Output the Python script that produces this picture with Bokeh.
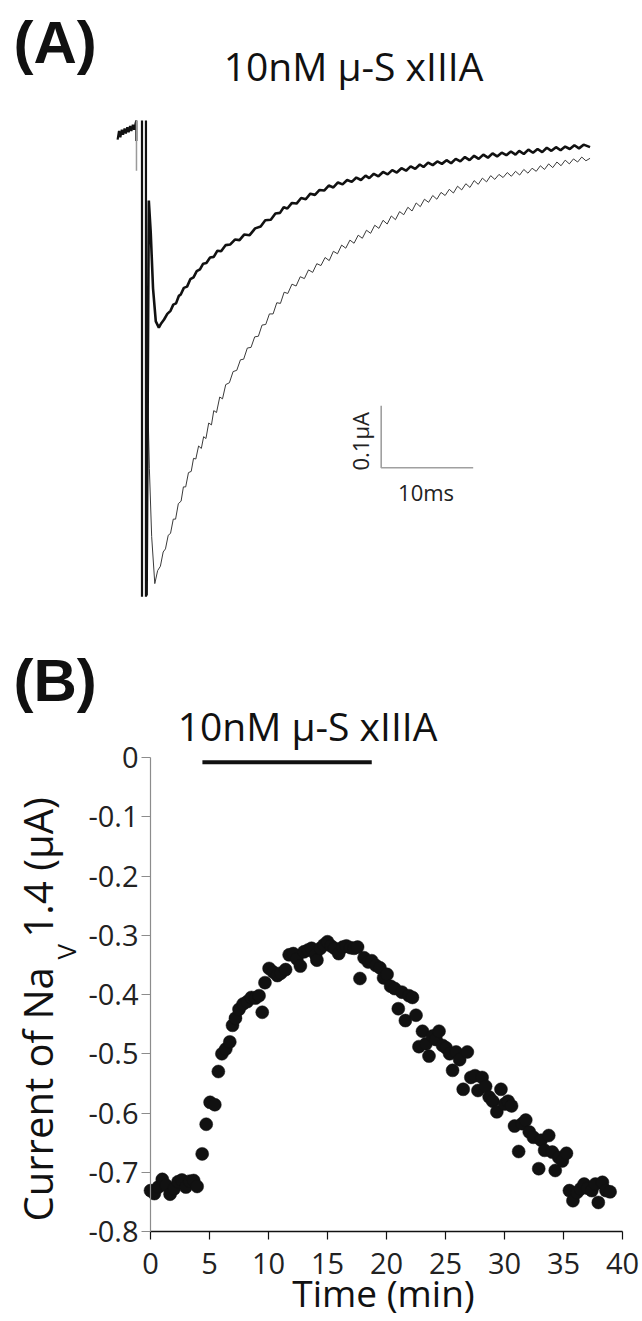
import math
from bokeh.plotting import figure
from bokeh.models import Range1d, Label, FixedTicker, LinearAxis
from bokeh.embed import file_html
from bokeh.resources import INLINE

# ---------------- Panel A : current traces (time in ms, current in uA) ----------------
base_t = [-2.65, -2.5, -2.35, -2.2, -2.05, -1.9, -1.75, -1.6, -1.45, -1.3, -1.15, -1.0, -0.85, -0.7, -0.62, -0.62]
base_v = [-0.010, 0.004, -0.006, 0.006, -0.002, 0.008, 0.000, 0.010, 0.002, 0.012, 0.004, 0.014, 0.006, 0.016, 0.021, -0.012]

thick_t = [0.50, 0.74, 0.95, 1.20, 1.50, 1.83, 2.10, 2.40, 2.75, 3.10, 3.40, 3.70, 4.00, 4.20, 4.55, 4.90,
           5.25, 5.60, 5.95, 6.30, 6.65, 7.00, 7.40, 7.80, 8.20, 8.60, 9.10, 9.60, 10.10, 10.60, 11.10,
           11.70, 12.30, 12.90, 13.40, 14.00, 14.50, 15.00, 15.40, 15.80, 16.30, 16.80, 17.30, 17.80,
           18.30, 18.80, 19.30, 19.80, 20.30, 20.80, 21.30, 21.80, 22.30, 22.80, 23.30, 23.80, 24.30,
           24.70, 25.20, 25.70, 26.20, 26.70, 27.20, 27.70, 28.20, 28.70, 29.20, 29.70, 30.20, 30.60,
           31.10, 31.60, 32.10, 32.60, 33.10, 33.60, 34.10, 34.60, 35.10, 35.60, 36.10, 36.60, 37.10,
           37.60, 38.10, 38.60, 39.10, 39.60, 40.10, 40.60, 41.00, 41.50, 42.00, 42.50, 43.00, 43.50,
           44.00, 44.50, 45.00, 45.50, 46.00, 46.50, 47.00, 47.50, 48.00, 48.70]
thick_v = [-0.745, -0.108, -0.160, -0.250, -0.303, -0.313, -0.306, -0.300, -0.291, -0.286, -0.276, -0.274,
           -0.262, -0.260, -0.249, -0.247, -0.235, -0.232, -0.222, -0.219, -0.210, -0.209, -0.200, -0.199,
           -0.189, -0.190, -0.180, -0.179, -0.171, -0.172, -0.163, -0.164, -0.153, -0.150, -0.140, -0.139,
           -0.129, -0.128, -0.119, -0.121, -0.112, -0.113, -0.104, -0.106, -0.097, -0.099, -0.091, -0.092,
           -0.084, -0.087, -0.079, -0.082, -0.075, -0.078, -0.071, -0.075, -0.068, -0.072, -0.065, -0.069,
           -0.062, -0.066, -0.059, -0.063, -0.056, -0.060, -0.053, -0.057, -0.050, -0.054, -0.047, -0.051,
           -0.045, -0.049, -0.043, -0.048, -0.041, -0.045, -0.038, -0.043, -0.036, -0.041, -0.034, -0.039,
           -0.032, -0.037, -0.031, -0.035, -0.029, -0.034, -0.028, -0.033, -0.026, -0.031, -0.025, -0.030,
           -0.023, -0.028, -0.022, -0.027, -0.021, -0.025, -0.019, -0.024, -0.018, -0.022]

thin_t = [0.62, 0.80, 1.05, 1.39, 1.70, 2.00, 2.30, 2.55, 2.85, 3.10, 3.40, 3.65, 3.95, 4.25, 4.50, 4.75,
          5.05, 5.35, 5.60, 5.85, 6.15, 6.45, 6.70, 6.95, 7.25, 7.55, 7.80, 8.10, 8.45, 8.75, 9.10, 9.50,
          9.90, 10.30, 10.70, 11.05, 11.45, 11.85, 12.25, 12.65, 13.05, 13.45, 13.85, 14.25, 14.65, 15.05,
          15.45, 15.85, 16.30, 16.75, 17.20, 17.65, 18.10, 18.55, 19.00, 19.45, 19.90, 20.35, 20.80, 21.25,
          21.70, 22.15, 22.60, 23.05, 23.50, 23.95, 24.40, 24.85, 25.30, 25.75, 26.20, 26.65, 27.10, 27.55,
          28.00, 28.45, 28.90, 29.35, 29.80, 30.25, 30.70, 31.15, 31.60, 32.05, 32.50, 32.95, 33.40, 33.85,
          34.30, 34.75, 35.20, 35.65, 36.10, 36.55, 37.00, 37.45, 37.90, 38.35, 38.80, 39.25, 39.70, 40.15,
          40.60, 41.05, 41.50, 41.95, 42.40, 42.85, 43.30, 43.75, 44.20, 44.65, 45.10, 45.55, 46.00, 46.45,
          46.90, 47.35, 47.80, 48.25, 48.70]
thin_v = [-0.423, -0.540, -0.650, -0.726, -0.705, -0.698, -0.675, -0.670, -0.648, -0.645, -0.622, -0.622,
          -0.597, -0.593, -0.570, -0.570, -0.547, -0.545, -0.524, -0.525, -0.504, -0.508, -0.489, -0.492,
          -0.467, -0.470, -0.447, -0.450, -0.425, -0.428, -0.405, -0.402, -0.384, -0.382, -0.365, -0.364,
          -0.346, -0.345, -0.328, -0.327, -0.309, -0.308, -0.291, -0.291, -0.273, -0.274, -0.256, -0.258,
          -0.243, -0.246, -0.231, -0.234, -0.220, -0.224, -0.210, -0.213, -0.200, -0.205, -0.190, -0.194,
          -0.180, -0.185, -0.172, -0.177, -0.164, -0.169, -0.156, -0.161, -0.148, -0.153, -0.140, -0.146,
          -0.133, -0.139, -0.126, -0.131, -0.119, -0.125, -0.112, -0.118, -0.106, -0.111, -0.100, -0.106,
          -0.095, -0.100, -0.090, -0.096, -0.085, -0.091, -0.081, -0.087, -0.076, -0.082, -0.072, -0.078,
          -0.068, -0.074, -0.066, -0.071, -0.063, -0.069, -0.061, -0.067, -0.058, -0.064, -0.056, -0.061,
          -0.052, -0.058, -0.049, -0.055, -0.046, -0.052, -0.043, -0.049, -0.041, -0.046, -0.038, -0.044,
          -0.040]

transient_t = [0.0, 0.43]
transient_top = 0.021
transient_bottom = -0.747
artifact_t = -0.6
artifact_v = [0.021, -0.060]

scalebar_t0 = 26.0      # ms
scalebar_v0 = -0.539    # uA
scalebar_dt = 10.0      # 10 ms
scalebar_dv = 0.1       # 0.1 uA

# ---------------- Panel B : current vs time ----------------
time_min = [0.0, 0.33, 0.66, 1.0, 1.33, 1.66, 2.0, 2.33, 2.66, 3.0,
            3.33, 3.66, 3.95, 4.38, 4.72, 5.05, 5.45, 5.75, 6.05, 6.38,
            6.72, 6.95, 7.2, 7.5, 7.85, 8.2, 8.55, 8.9, 9.2, 9.47,
            9.7, 10.05, 10.4, 10.75, 11.05, 11.45, 11.75, 12.1, 12.4, 12.7,
            13.0, 13.35, 13.65, 14.0, 14.1, 14.4, 14.7, 15.0, 15.3, 15.6,
            15.95, 16.3, 16.6, 16.95, 17.25, 17.55, 17.75, 18.1, 18.45, 18.75,
            19.1, 19.45, 19.75, 20.05, 20.35, 20.7, 21.0, 21.3, 21.6, 21.9,
            22.2, 22.5, 22.75, 23.05, 23.35, 23.6, 23.9, 24.2, 24.45, 24.75,
            25.05, 25.35, 25.6, 25.9, 26.2, 26.5, 26.85, 27.15, 27.5, 27.75,
            28.1, 28.4, 28.7, 29.0, 29.35, 29.7, 30.0, 30.3, 30.6, 30.85,
            31.2, 31.5, 31.8, 32.1, 32.45, 32.9, 33.1, 33.4, 33.75, 34.05,
            34.3, 34.6, 34.9, 35.25, 35.5, 35.8, 36.15, 36.45, 36.75, 37.05,
            37.4, 37.7, 37.95, 38.3, 38.6, 38.95]
current_uA = [-0.731, -0.736, -0.725, -0.712, -0.722, -0.737, -0.728, -0.716, -0.713, -0.725,
              -0.715, -0.714, -0.724, -0.669, -0.619, -0.582, -0.586, -0.530, -0.500, -0.492,
              -0.480, -0.452, -0.440, -0.425, -0.416, -0.412, -0.405, -0.406, -0.402, -0.430,
              -0.380, -0.356, -0.362, -0.368, -0.364, -0.358, -0.333, -0.331, -0.340, -0.352,
              -0.328, -0.325, -0.322, -0.333, -0.342, -0.322, -0.316, -0.311, -0.318, -0.322,
              -0.331, -0.320, -0.318, -0.321, -0.322, -0.320, -0.373, -0.338, -0.345, -0.343,
              -0.351, -0.355, -0.372, -0.366, -0.386, -0.390, -0.424, -0.396, -0.444, -0.402,
              -0.405, -0.435, -0.488, -0.462, -0.483, -0.504, -0.470, -0.476, -0.462, -0.486,
              -0.490, -0.500, -0.528, -0.497, -0.510, -0.560, -0.497, -0.540, -0.537, -0.562,
              -0.540, -0.555, -0.573, -0.580, -0.598, -0.560, -0.585, -0.580, -0.588, -0.622,
              -0.665, -0.618, -0.612, -0.632, -0.641, -0.694, -0.646, -0.663, -0.638, -0.666,
              -0.697, -0.675, -0.681, -0.668, -0.731, -0.748, -0.734, -0.728, -0.720, -0.727,
              -0.731, -0.720, -0.751, -0.717, -0.731, -0.733]

toxin_start, toxin_end = 4.4, 18.75
toxin_bar_v = -0.008

x_ticks = [0, 5, 10, 15, 20, 25, 30, 35, 40]
y_ticks = [0, -0.1, -0.2, -0.3, -0.4, -0.5, -0.6, -0.7, -0.8]
y_tick_labels = ["0", "-0.1", "-0.2", "-0.3", "-0.4", "-0.5", "-0.6", "-0.7", "-0.8"]

TITLE = "10nM \u03bc-S xIIIA"
FONT = "Open Sans"
BOLD_FONT = "Liberation Sans"
INK = "#111111"

W = 640
H = 1319


# page pixel -> data of panel B (default ranges): x = 150 + 11.8*t, y = 757 + 592.5*|v|
def bx(px):
    return (px - 150.0) / 11.8


def by(py):
    return -(py - 757.0) / 592.5


# page pixel -> data of panel A (extra ranges): x = 141.5 + 9.2*t, y = 133 - 620*v
def ax(px):
    return (px - 141.5) / 9.2


def ay(py):
    return (133.0 - py) / 620.0


p = figure(width=W, height=H, output_backend="svg", toolbar_location=None,
           x_axis_type=None, y_axis_type=None,
           x_range=Range1d(bx(0), bx(W)), y_range=Range1d(by(H), by(0)),
           min_border_left=0, min_border_right=0, min_border_top=0, min_border_bottom=0)
p.extra_x_ranges = {"ta": Range1d(ax(0), ax(W))}
p.extra_y_ranges = {"va": Range1d(ay(H), ay(0))}
p.outline_line_color = None
p.background_fill_color = "white"

# ---------- Panel A ----------
A = dict(x_range_name="ta", y_range_name="va")
p.line(base_t, base_v, line_color=INK, line_width=2.2, **A)
p.segment(x0=[artifact_t], y0=[artifact_v[0]], x1=[artifact_t], y1=[artifact_v[1]],
          line_color="#9a9a9a", line_width=1.5, **A)
p.segment(x0=transient_t, y0=[transient_top] * 2, x1=transient_t, y1=[transient_bottom] * 2,
          line_color=INK, line_width=2.2, **A)
p.line(thin_t, thin_v, line_color="#3a3a3a", line_width=1.0, **A)
p.line(thick_t, thick_v, line_color=INK, line_width=2.6, **A)
p.line([scalebar_t0, scalebar_t0, scalebar_t0 + scalebar_dt],
       [scalebar_v0 + scalebar_dv, scalebar_v0, scalebar_v0],
       line_color="#a0a0a0", line_width=1.6, **A)


def add_text(px, py, text, size, font=FONT, bold=False, align="left", angle=0.0, color=INK):
    """px, py: page position of the text's start/centre on its baseline."""
    k = 0.34 if font == BOLD_FONT else 0.39   # observed baseline offset of the renderer (em)
    shift = k * size
    if angle:
        px -= shift
    else:
        py -= shift
    p.add_layout(Label(x=bx(px), y=by(py), text=text, text_font=font,
                       text_font_style="bold" if bold else "normal",
                       text_font_size=f"{size}px", text_color=color, text_align=align,
                       text_baseline="alphabetic", angle=angle))


add_text(13, 62, "(A)", 60, font=BOLD_FONT, bold=True)
add_text(353, 80, TITLE, 39, align="center")
add_text(425.6, 500.5, "10ms", 22, align="center", color="#222222")
add_text(368, 470, "0.1\u03bcA", 22, angle=math.pi / 2, color="#222222")

# ---------- Panel B ----------
xaxis = LinearAxis(fixed_location=-0.8, bounds=(0, 40), ticker=FixedTicker(ticks=x_ticks))
yaxis = LinearAxis(fixed_location=0, bounds=(-0.8, 0), ticker=FixedTicker(ticks=y_ticks),
                   major_label_overrides=dict(zip(y_ticks, y_tick_labels)))
for a in (xaxis, yaxis):
    a.minor_tick_line_color = None
    a.major_tick_in = 0
    a.major_label_text_font = FONT
    a.major_label_text_font_size = "29px"
    a.major_label_text_color = "#222222"

yaxis.axis_line_color = "#8c8c8c"
yaxis.axis_line_width = 1.2
yaxis.major_tick_line_color = "#8c8c8c"
yaxis.major_tick_out = 9
yaxis.major_label_standoff = 3

xaxis.axis_line_color = INK
xaxis.axis_line_width = 1.6
xaxis.major_tick_line_color = INK
xaxis.major_tick_line_width = 1.2
xaxis.major_tick_out = 8
xaxis.major_label_standoff = 13

p.add_layout(xaxis, "below")
p.add_layout(yaxis, "left")

p.line([toxin_start, toxin_end], [toxin_bar_v, toxin_bar_v], line_color=INK, line_width=4)
p.scatter(time_min, current_uA, size=13, fill_color=INK, line_color=INK, line_width=0.5)

add_text(13, 700, "(B)", 60, font=BOLD_FONT, bold=True)
add_text(307, 740, TITLE, 39, align="center")
add_text(383, 1306, "Time (min)", 37, align="center")
add_text(53, 1221, "Current of Na", 40, angle=math.pi / 2)
add_text(76, 959, "V", 26, angle=math.pi / 2)
add_text(53, 937, "1.4 (\u03bcA)", 40, angle=math.pi / 2)

open("out.html", "w").write(file_html(p, INLINE))
